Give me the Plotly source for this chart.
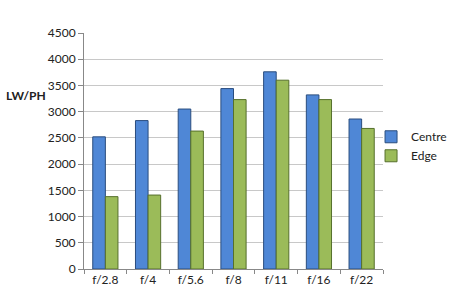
import plotly.graph_objects as go

categories = ["f/2.8", "f/4", "f/5.6", "f/8", "f/11", "f/16", "f/22"]
centre = [2520, 2830, 3050, 3440, 3760, 3320, 2860]
edge = [1380, 1410, 2630, 3230, 3600, 3230, 2680]
y_ticks = [0, 500, 1000, 1500, 2000, 2500, 3000, 3500, 4000, 4500]

fig = go.Figure()
fig.add_trace(go.Bar(x=categories, y=centre, name="Centre",
                     marker=dict(color="#4F87D6", line=dict(color="#2A4D7E", width=1))))
fig.add_trace(go.Bar(x=categories, y=edge, name="Edge",
                     marker=dict(color="#9BBB59", line=dict(color="#56702C", width=1))))

font_family = "Lato, Open Sans, sans-serif"
fig.update_layout(
    width=450, height=302,
    margin=dict(l=84, r=67, t=33, b=33, autoexpand=False),
    paper_bgcolor="white", plot_bgcolor="white",
    barmode="group", bargap=0.41, bargroupgap=0,
    font=dict(family=font_family, size=12, color="#333333"),
    showlegend=True,
    legend=dict(x=0.96, y=0.52, xanchor="left", yanchor="middle",
                font=dict(size=12, color="#222222"), itemwidth=30,
                tracegroupgap=0, bgcolor="rgba(0,0,0,0)"),
    annotations=[dict(text="<b>LW/PH</b>", xref="x domain", yref="y domain",
                      x=-0.195, y=(269 - 96) / 236, xanchor="center", yanchor="middle",
                      showarrow=False, font=dict(size=12, color="#222222"))],
)
fig.update_xaxes(showline=True, linecolor="#888888", linewidth=1,
                 ticks="outside", tickson="boundaries", ticklen=4, tickcolor="#888888",
                 tickfont=dict(size=12, color="#222222"), showgrid=False)
fig.update_yaxes(range=[0, 4500], tickvals=y_ticks, showline=True, linecolor="#888888", linewidth=1,
                 ticks="outside", ticklen=5, tickcolor="#888888",
                 showgrid=True, gridcolor="#C8C8C8", gridwidth=1,
                 tickfont=dict(size=12, color="#222222"), zeroline=False)
fig.write_html("out.html")
